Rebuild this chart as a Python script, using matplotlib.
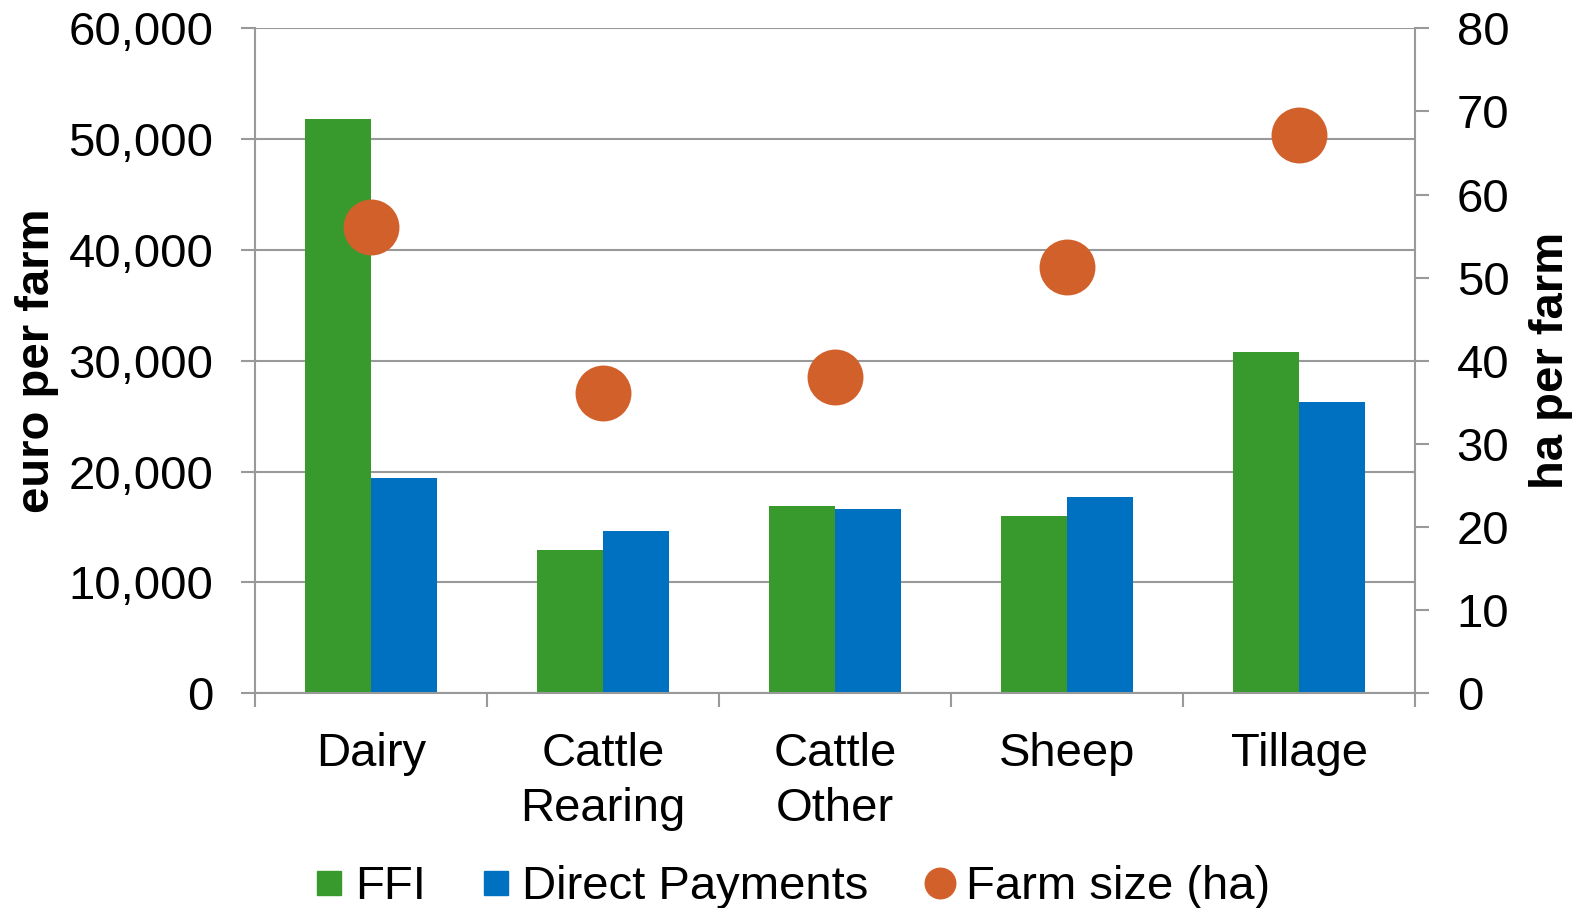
import matplotlib
matplotlib.use("Agg")
import matplotlib.pyplot as plt
from matplotlib.ticker import StrMethodFormatter, FixedLocator
from matplotlib.lines import Line2D
import numpy as np

plt.rcParams['font.family'] = ['Liberation Sans', 'DejaVu Sans']

categories = ['Dairy', 'Cattle\nRearing', 'Cattle\nOther', 'Sheep', 'Tillage']
ffi = [51800, 12900, 16900, 16000, 30800]
direct_payments = [19400, 14600, 16600, 17700, 26300]
farm_size = [56.1, 36.1, 38.0, 51.3, 67.2]
left_ticks = [0, 10000, 20000, 30000, 40000, 50000, 60000]
right_ticks = [0, 10, 20, 30, 40, 50, 60, 70, 80]

GREEN = '#389A2D'
BLUE = '#0070C0'
ORANGE = '#D2602A'
GRAY = '#999999'
FS = 34

fig = plt.figure(figsize=(15.78, 9.08), dpi=100)
ax = fig.add_axes([255/1578, 1-693.3/908, (1415-255)/1578, (693.3-28.3)/908])

x = np.arange(len(categories))
w = 0.286
ax.bar(x - w, ffi, width=w, align='edge', color=GREEN, zorder=2, label='FFI')
ax.bar(x, direct_payments, width=w, align='edge', color=BLUE, zorder=2, label='Direct Payments')

ax.set_xlim(-0.5, len(categories) - 0.5)
ax.set_ylim(0, 60000)
ax.set_yticks(left_ticks)
ax.yaxis.set_major_formatter(StrMethodFormatter('{x:,.0f}'))
ax.yaxis.grid(True, color=GRAY, lw=1.5, zorder=0)
ax.set_axisbelow(True)

ax.set_xticks(x)
ax.set_xticklabels(categories, fontsize=FS, linespacing=1.32)
ax.xaxis.set_minor_locator(FixedLocator(np.arange(-0.5, len(categories), 1.0)))
ax.tick_params(axis='x', which='major', length=0, pad=28)
ax.tick_params(axis='x', which='minor', length=10, width=1.5, color=GRAY, direction='out')
ax.tick_params(axis='y', length=10, width=1.5, color=GRAY, labelsize=FS, pad=20)

for s in ['top', 'right']:
    ax.spines[s].set_visible(False)
for s in ['left', 'bottom']:
    ax.spines[s].set_color(GRAY)
    ax.spines[s].set_linewidth(1.5)

ax.set_ylabel('euro per farm', fontsize=FS, fontweight='bold', labelpad=7)

ax2 = ax.twinx()
ax2.scatter(x, farm_size, s=1620, color=ORANGE, zorder=3, linewidths=0, label='Farm size (ha)')
ax2.set_ylim(0, 80)
ax2.set_yticks(right_ticks)
ax2.tick_params(axis='y', length=10, width=1.5, color=GRAY, labelsize=FS, pad=20)
for s in ['top', 'left', 'bottom']:
    ax2.spines[s].set_visible(False)
ax2.spines['right'].set_color(GRAY)
ax2.spines['right'].set_linewidth(1.5)
ax2.set_ylabel('ha per farm', fontsize=FS, fontweight='bold', labelpad=14)

handles = [
    Line2D([], [], marker='s', ls='', color=GREEN, markersize=17),
    Line2D([], [], marker='s', ls='', color=BLUE, markersize=17),
    Line2D([], [], marker='o', ls='', color=ORANGE, markersize=22),
]
labels = ['FFI', 'Direct Payments', 'Farm size (ha)']
fig.legend(handles, labels, loc='center', bbox_to_anchor=(0.502, 0.023), ncol=3,
           frameon=False, fontsize=FS, handlelength=0.6, handletextpad=0.25,
           columnspacing=1.2, borderpad=0)

fig.savefig('out.png', dpi=100)
